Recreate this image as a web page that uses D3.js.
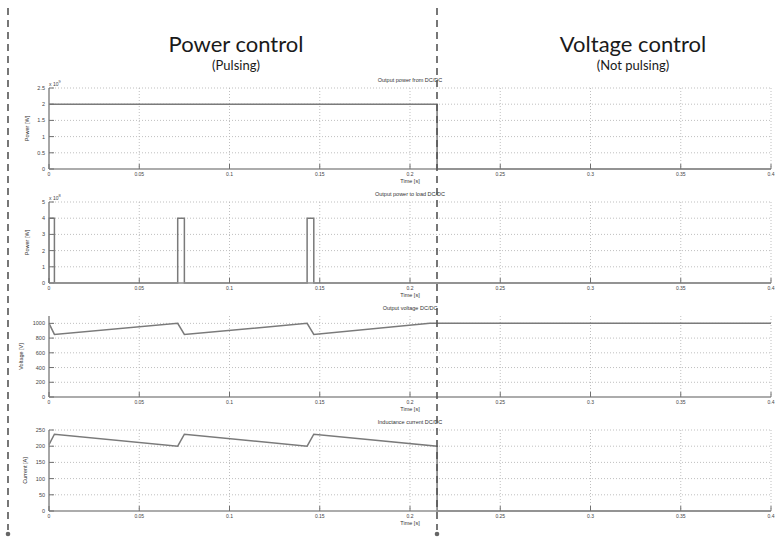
<!DOCTYPE html>
<html>
<head>
<meta charset="utf-8">
<script src="https://cdn.jsdelivr.net/npm/d3@7"></script>
<style>
    body { margin: 0; background: #fff; }
    svg { display: block; }
</style>
</head>
<body>
<div data-chart></div>
<script>
// time ticks shared by all four panels
const timeTicks = [0, 0.05, 0.1, 0.15, 0.2, 0.25, 0.3, 0.35, 0.4]

// Output power from DC/DC (x 10^9)
const powerFromT = [0, 0.215, 0.215, 0.4]
const powerFromV = [2, 2, 0, 0]
const powerFromTicks = [0, 0.5, 1, 1.5, 2, 2.5]

// Output power to load DC/DC (x 10^8)
const powerLoadT = [0, 0, 0.003, 0.003, 0.0713, 0.0713, 0.075, 0.075, 0.143, 0.143, 0.1467, 0.1467, 0.4]
const powerLoadV = [0, 4, 4, 0, 0, 4, 4, 0, 0, 4, 4, 0, 0]
const powerLoadTicks = [0, 1, 2, 3, 4, 5]

// Output voltage DC/DC
const voltageT = [0, 0.003, 0.0713, 0.075, 0.143, 0.1467, 0.211, 0.4]
const voltageV = [1000, 850, 1000, 850, 1000, 850, 1000, 1000]
const voltageTicks = [0, 200, 400, 600, 800, 1000]

// Inductance current DC/DC
const currentT = [0, 0.003, 0.0713, 0.075, 0.143, 0.1467, 0.215, 0.215, 0.4]
const currentV = [205, 237, 200, 237, 200, 237, 200, 0, 0]
const currentTicks = [0, 50, 100, 150, 200, 250]

const panels = [
    { title: "Output power from DC/DC", ylabel: "Power [W]", exp: "9", t: powerFromT, v: powerFromV, ticks: powerFromTicks, max: 2.5, top: 88, labX: 29 },
    { title: "Output power to load DC/DC", ylabel: "Power [W]", exp: "8", t: powerLoadT, v: powerLoadV, ticks: powerLoadTicks, max: 5, top: 202, labX: 29 },
    { title: "Output voltage DC/DC", ylabel: "Voltage [V]", exp: null, t: voltageT, v: voltageV, ticks: voltageTicks, max: 1100, top: 316, labX: 23 },
    { title: "Inductance current DC/DC", ylabel: "Current [A]", exp: null, t: currentT, v: currentV, ticks: currentTicks, max: 250, top: 430, labX: 27 }
]

const W = 783, H = 538
const panelH = 81
const font = "'Liberation Sans', Arial, sans-serif"

let svg = d3.select("[data-chart]").append("svg")
    .attr("width", W)
    .attr("height", H)

let x = d3.scaleLinear().domain([0, 0.4]).range([49, 771])
let fmt = d3.format("~g")

panels.forEach(p => {
    let y = d3.scaleLinear().domain([0, p.max]).range([p.top + panelH, p.top])
    let g = svg.append("g")
    let bottom = p.top + panelH

    // grid
    g.selectAll(".hgrid")
        .data(p.ticks.filter(d => d > 0))
        .enter().append("line")
        .attr("x1", x(0)).attr("x2", x(0.4))
        .attr("y1", d => y(d)).attr("y2", d => y(d))
        .attr("stroke", "#b8b8b8")
        .attr("stroke-width", 0.9)
        .attr("stroke-dasharray", "1,2")
    g.selectAll(".vgrid")
        .data(timeTicks.filter(d => d > 0))
        .enter().append("line")
        .attr("x1", d => x(d)).attr("x2", d => x(d))
        .attr("y1", y(p.max)).attr("y2", bottom)
        .attr("stroke", "#b8b8b8")
        .attr("stroke-width", 0.9)
        .attr("stroke-dasharray", "1,2")

    // data trace
    let line = d3.line()
        .x((d, i) => x(p.t[i]))
        .y(d => y(d))
    g.append("path")
        .attr("d", line(p.v))
        .attr("fill", "none")
        .attr("stroke", "#7a7a7a")
        .attr("stroke-width", 1.5)

    // axes lines
    g.append("line")
        .attr("x1", x(0)).attr("x2", x(0.4))
        .attr("y1", bottom).attr("y2", bottom)
        .attr("stroke", "#909090").attr("stroke-width", 1.6)
    g.append("line")
        .attr("x1", x(0)).attr("x2", x(0))
        .attr("y1", bottom).attr("y2", y(p.max))
        .attr("stroke", "#909090").attr("stroke-width", 1.6)

    // ticks
    g.selectAll(".xt")
        .data(timeTicks)
        .enter().append("line")
        .attr("x1", d => x(d)).attr("x2", d => x(d))
        .attr("y1", bottom).attr("y2", bottom - 5)
        .attr("stroke", "#707070").attr("stroke-width", 1)
    g.selectAll(".yt")
        .data(p.ticks)
        .enter().append("line")
        .attr("x1", x(0)).attr("x2", x(0) + 5)
        .attr("y1", d => y(d)).attr("y2", d => y(d))
        .attr("stroke", "#707070").attr("stroke-width", 1)

    // tick labels
    g.selectAll(".xl")
        .data(timeTicks)
        .enter().append("text")
        .attr("x", d => x(d))
        .attr("y", bottom + 7)
        .attr("text-anchor", "middle")
        .style("font", "5px " + font)
        .style("fill", "#444")
        .text(d => fmt(d))
    g.selectAll(".yl")
        .data(p.ticks)
        .enter().append("text")
        .attr("x", x(0) - 4)
        .attr("y", d => y(d) + 2)
        .attr("text-anchor", "end")
        .style("font", "5.5px " + font)
        .style("fill", "#444")
        .text(d => fmt(d))

    // titles
    g.append("text")
        .attr("x", 410).attr("y", p.top - 6)
        .attr("text-anchor", "middle")
        .style("font", "5.5px " + font)
        .style("fill", "#333")
        .text(p.title)
    g.append("text")
        .attr("x", 410).attr("y", bottom + 14)
        .attr("text-anchor", "middle")
        .style("font", "5.5px " + font)
        .style("fill", "#333")
        .text("Time [s]")
    g.append("text")
        .attr("transform", "translate(" + p.labX + "," + (p.top + panelH / 2) + ")rotate(-90)")
        .attr("text-anchor", "middle")
        .style("font", "5.5px " + font)
        .style("fill", "#333")
        .text(p.ylabel)

    if (p.exp) {
        let e = g.append("text")
            .attr("x", x(0))
            .attr("y", p.top - 2)
            .style("font", "5px " + font)
            .style("fill", "#444")
        e.append("tspan").text("x 10")
        e.append("tspan").attr("dy", -3).style("font-size", "4px").text(p.exp)
    }
})

// phase separators
;[8, 437].forEach(px => {
    svg.append("line")
        .attr("x1", px).attr("x2", px)
        .attr("y1", 8).attr("y2", 530)
        .attr("stroke", "#555")
        .attr("stroke-width", 1.6)
        .attr("stroke-dasharray", "7,5")
    svg.append("circle")
        .attr("cx", px).attr("cy", 534)
        .attr("r", 2.3)
        .attr("fill", "#666")
})

// phase headings
const headings = [
    { text: "Power control", sub: "(Pulsing)", cx: 236 },
    { text: "Voltage control", sub: "(Not pulsing)", cx: 633 }
]
headings.forEach(h => {
    svg.append("text")
        .attr("x", h.cx).attr("y", 52)
        .attr("text-anchor", "middle")
        .style("font", "22px Lato, 'Open Sans', sans-serif")
        .style("fill", "#1a1a1a")
        .text(h.text)
    svg.append("text")
        .attr("x", h.cx).attr("y", 70)
        .attr("text-anchor", "middle")
        .style("font", "13px Lato, 'Open Sans', sans-serif")
        .style("fill", "#1a1a1a")
        .text(h.sub)
})
</script>
</body>
</html>
